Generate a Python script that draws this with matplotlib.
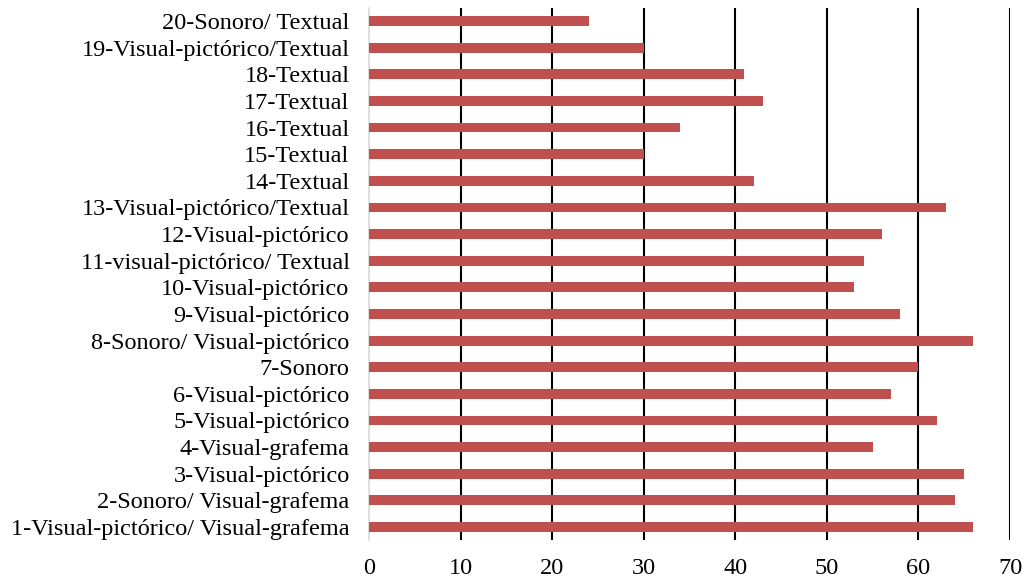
import matplotlib
matplotlib.use("Agg")
import matplotlib.pyplot as plt

categories = [
    "1-Visual-pictórico/ Visual-grafema",
    "2-Sonoro/ Visual-grafema",
    "3-Visual-pictórico",
    "4-Visual-grafema",
    "5-Visual-pictórico",
    "6-Visual-pictórico",
    "7-Sonoro",
    "8-Sonoro/ Visual-pictórico",
    "9-Visual-pictórico",
    "10-Visual-pictórico",
    "11-visual-pictórico/ Textual",
    "12-Visual-pictórico",
    "13-Visual-pictórico/Textual",
    "14-Textual",
    "15-Textual",
    "16-Textual",
    "17-Textual",
    "18-Textual",
    "19-Visual-pictórico/Textual",
    "20-Sonoro/ Textual",
]
values = [66, 64, 65, 55, 62, 57, 60, 66, 58, 53, 54, 56, 63, 42, 30, 34, 43, 41, 30, 24]
xticks = [0, 10, 20, 30, 40, 50, 60, 70]

plt.rcParams['font.family'] = ['Liberation Serif', 'DejaVu Serif']

fig = plt.figure(figsize=(10.28, 5.81), dpi=100)
ax = fig.add_axes([0.359, 0.07, 0.6235, 0.9167])

y = list(range(len(categories)))
ax.barh(y, values, height=0.37, color='#C0504D', zorder=3)

ax.set_xlim(0, 70)
ax.set_ylim(-0.5, len(categories) - 0.5)
ax.set_xticks(xticks)
ax.set_xticklabels([str(t) for t in xticks], fontsize=17.5)
ax.set_yticks(y)
ax.set_yticklabels(categories, fontsize=17.5)
ax.tick_params(axis='both', length=0)
ax.tick_params(axis='x', pad=13)
ax.tick_params(axis='y', pad=14)

for s in ['top', 'right', 'bottom']:
    ax.spines[s].set_visible(False)
ax.spines['left'].set_color('#D9D9D9')
ax.spines['left'].set_linewidth(1.2)

ax.xaxis.grid(True, color='black', linewidth=1.5, zorder=1)
ax.set_axisbelow(True)
gl = ax.get_xgridlines()
gl[0].set_visible(False)

fig.savefig('out.png', dpi=100)
